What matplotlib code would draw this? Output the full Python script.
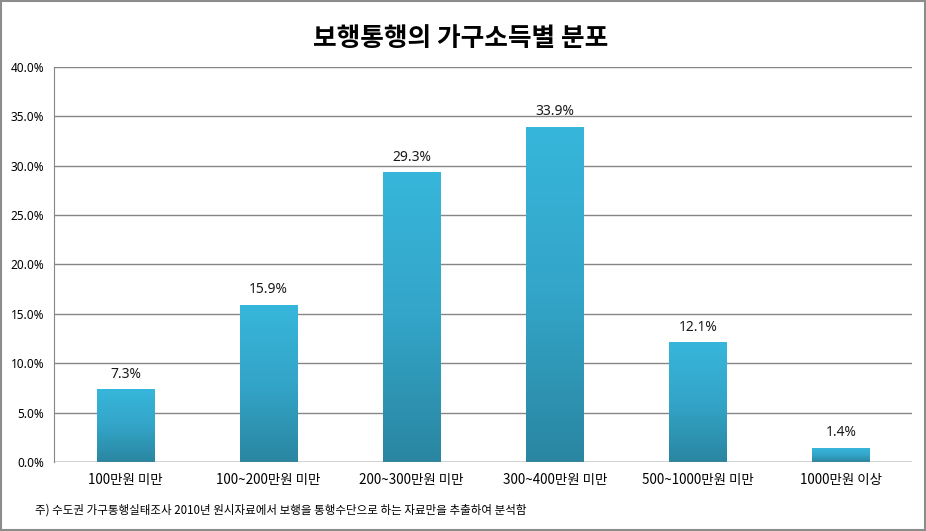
import numpy as np
import matplotlib.pyplot as plt
from matplotlib.colors import LinearSegmentedColormap

plt.rcParams['font.family'] = ['Noto Sans CJK KR', 'DejaVu Sans']

categories = ['100만원 미만', '100~200만원 미만', '200~300만원 미만',
              '300~400만원 미만', '500~1000만원 미만', '1000만원 이상']
values = [7.3, 15.9, 29.3, 33.9, 12.1, 1.4]
yticks = [0, 5, 10, 15, 20, 25, 30, 35, 40]

title = '보행통행의 가구소득별 분포'
note = '주) 수도권 가구통행실태조사 2010년 원시자료에서 보행을 통행수단으로 하는 자료만을 추출하여 분석함'

fig = plt.figure(figsize=(9.26, 5.31), dpi=100)
ax = fig.add_axes([0.0583, 0.130, 0.927, 0.7438])

x = np.arange(len(categories))
bars = ax.bar(x, values, width=0.4, color='none', zorder=3)

# vertical gradient in each bar: light on top, darker at bottom
cmap = LinearSegmentedColormap.from_list('bar', ['#2a86a1', '#33a5c8', '#37b6db'])
grad = np.linspace(0, 1, 256).reshape(-1, 1)
for b in bars:
    x0 = b.get_x()
    x1 = x0 + b.get_width()
    h = b.get_height()
    ax.imshow(grad, cmap=cmap, origin='lower', aspect='auto',
              extent=(x0, x1, 0, h), zorder=3)
    ax.text(b.get_x() + b.get_width() / 2, h + 0.8, f'{h:.1f}%',
            ha='center', va='bottom', fontsize=10, color='#1a1a1a',
            family=['Noto Sans'])

ax.set_xlim(-0.5, len(categories) - 0.5)
ax.set_ylim(0, 40)
ax.set_yticks(yticks)
ax.set_yticklabels([f'{v:.1f}%' for v in yticks], fontsize=8.5,
                   family=['Noto Sans'])
ax.set_xticks(x)
ax.set_xticklabels(categories, fontsize=9.7)
ax.tick_params(axis='both', length=0, pad=7)
ax.tick_params(axis='x', pad=8)
ax.grid(axis='y', color='#868686', linewidth=1, zorder=0)
ax.axhline(0, color='#868686', linewidth=1, zorder=4)
for s in ['top', 'right', 'bottom']:
    ax.spines[s].set_visible(False)
ax.spines['left'].set_color('#868686')

fig.text(0.497, 0.928, title, ha='center', va='center', fontsize=18.5,
         fontweight='bold')
fig.text(0.038, 0.040, note, ha='left', va='center', fontsize=8.3)

# outer border
fig.patches.append(plt.Rectangle((0.001, 0.001), 0.998, 0.997,
                                 transform=fig.transFigure, fill=False,
                                 edgecolor='#8c8c8c', linewidth=1.5))

fig.savefig('out.png', dpi=100)
